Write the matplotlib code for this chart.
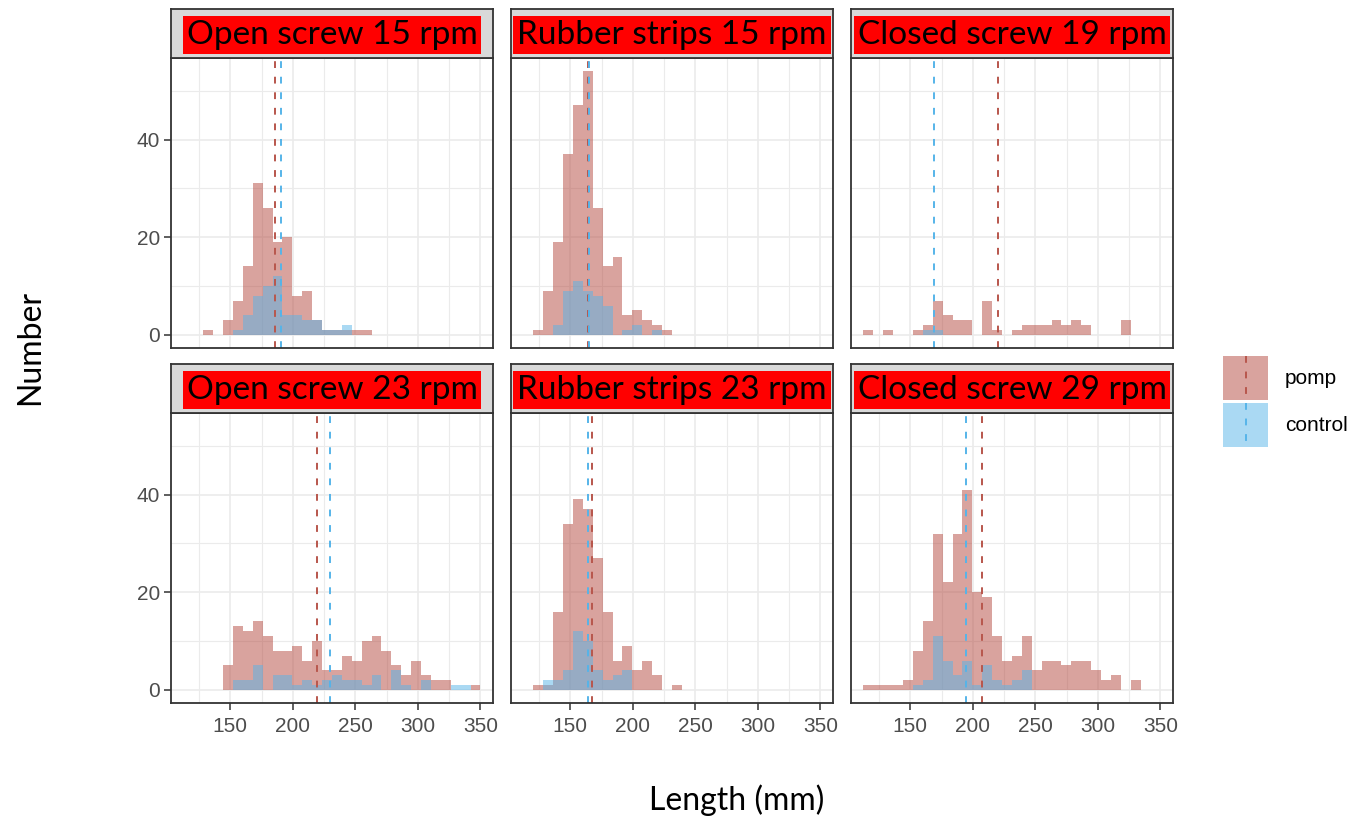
import numpy as np
import matplotlib.pyplot as plt
from matplotlib.patches import Rectangle
from matplotlib.lines import Line2D

plt.rcParams['font.family'] = ['Liberation Sans', 'DejaVu Sans']

W, H = 1366, 818

###### DATA ##########
panel_titles = ["Open screw 15 rpm", "Rubber strips 15 rpm", "Closed screw 19 rpm",
                "Open screw 23 rpm", "Rubber strips 23 rpm", "Closed screw 29 rpm"]

# 30 bins shared by all facets (ggplot default bins = 30)
bin_start = 112.5
bin_width = 7.9167
n_bins = 30

# counts per bin, pomp and control, one list per facet
open15_pomp = [0, 0, 1, 0, 3, 7, 14, 31, 26, 19, 20, 8, 9, 3, 1, 1, 1, 1, 1, 0, 0, 0, 0, 0, 0, 0, 0, 0, 0, 0]
open15_ctrl = [0, 0, 0, 0, 0, 1, 4, 8, 10, 12, 4, 4, 3, 3, 1, 1, 2, 0, 0, 0, 0, 0, 0, 0, 0, 0, 0, 0, 0, 0]
rubber15_pomp = [0, 1, 9, 19, 37, 47, 54, 26, 14, 16, 4, 5, 3, 2, 1, 0, 0, 0, 0, 0, 0, 0, 0, 0, 0, 0, 0, 0, 0, 0]
rubber15_ctrl = [0, 0, 0, 2, 9, 11, 9, 8, 6, 0, 1, 2, 0, 1, 0, 0, 0, 0, 0, 0, 0, 0, 0, 0, 0, 0, 0, 0, 0, 0]
closed19_pomp = [1, 0, 1, 0, 0, 1, 2, 7, 4, 3, 3, 0, 7, 1, 0, 1, 2, 2, 2, 3, 2, 3, 2, 0, 0, 0, 3, 0, 0, 0]
closed19_ctrl = [0, 0, 0, 0, 0, 0, 1, 1, 0, 0, 0, 0, 0, 0, 0, 0, 0, 0, 0, 0, 0, 0, 0, 0, 0, 0, 0, 0, 0, 0]
open23_pomp = [0, 0, 0, 0, 5, 13, 12, 14, 11, 8, 8, 9, 6, 10, 4, 4, 7, 6, 10, 11, 8, 5, 3, 6, 3, 2, 2, 0, 0, 1]
open23_ctrl = [0, 0, 0, 0, 0, 2, 2, 5, 0, 3, 3, 1, 2, 1, 2, 3, 2, 2, 1, 3, 0, 4, 1, 0, 2, 0, 0, 1, 1, 0]
rubber23_pomp = [0, 1, 1, 16, 34, 39, 37, 27, 16, 6, 9, 4, 6, 3, 0, 1, 0, 0, 0, 0, 0, 0, 0, 0, 0, 0, 0, 0, 0, 0]
rubber23_ctrl = [0, 0, 2, 2, 4, 12, 10, 4, 2, 3, 4, 0, 0, 0, 0, 0, 0, 0, 0, 0, 0, 0, 0, 0, 0, 0, 0, 0, 0, 0]
closed29_pomp = [1, 1, 1, 1, 2, 8, 14, 32, 22, 32, 41, 20, 19, 11, 6, 7, 11, 4, 6, 6, 5, 6, 6, 4, 2, 3, 0, 2, 0, 0]
closed29_ctrl = [0, 0, 0, 0, 0, 1, 2, 11, 6, 3, 6, 1, 5, 2, 1, 2, 4, 0, 0, 0, 0, 0, 0, 0, 0, 0, 0, 0, 0, 0]

pomp_counts = [open15_pomp, rubber15_pomp, closed19_pomp, open23_pomp, rubber23_pomp, closed29_pomp]
ctrl_counts = [open15_ctrl, rubber15_ctrl, closed19_ctrl, open23_ctrl, rubber23_ctrl, closed29_ctrl]

# mean lengths (dashed lines)
pomp_means = [185.7, 164.4, 220.3, 219.5, 167.1, 207.0]
ctrl_means = [190.5, 165.2, 169.2, 229.9, 164.4, 194.5]

x_ticks = [150, 200, 250, 300, 350]
y_ticks = [0, 20, 40]
#########################

POMP = '#B5493F'
POMP_LINE = '#B8564C'
CTRL = '#56B4E9'
BORDER = '#333333'
GRID = '#EBEBEB'

edges = bin_start + bin_width * np.arange(n_bins + 1)
centers = (edges[:-1] + edges[1:]) / 2


def px(x, y, w, h):
    # pixel box (top-left origin) -> figure fraction
    return [x / W, 1 - (y + h) / H, w / W, h / H]


fig = plt.figure(figsize=(W / 100, H / 100), dpi=100)

col_x = [171, 511, 851]
row_y = [58, 413]
pw, ph = 322, 290
strip_h = 49

dash = (0, (3.5, 4.5))

for i in range(6):
    r, c = divmod(i, 3)
    x0, y0 = col_x[c], row_y[r]
    ax = fig.add_axes(px(x0, y0, pw, ph))
    ax.set_xlim(102.6, 360.0)
    ax.set_ylim(-2.7, 56.7)

    # grid
    for v in [125, 175, 225, 275, 325]:
        ax.axvline(v, color=GRID, lw=0.8, zorder=0)
    for v in x_ticks:
        ax.axvline(v, color=GRID, lw=1.2, zorder=0)
    for v in [10, 30, 50]:
        ax.axhline(v, color=GRID, lw=0.8, zorder=0)
    for v in y_ticks:
        ax.axhline(v, color=GRID, lw=1.2, zorder=0)

    ax.bar(centers, pomp_counts[i], width=bin_width, color=POMP, alpha=0.5, lw=0, zorder=2)
    ax.bar(centers, ctrl_counts[i], width=bin_width, color=CTRL, alpha=0.5, lw=0, zorder=3)
    ax.axvline(pomp_means[i], color=POMP_LINE, lw=1.4, ls=dash, zorder=4)
    ax.axvline(ctrl_means[i], color=CTRL, lw=1.4, ls=dash, zorder=5)

    for s in ax.spines.values():
        s.set_color(BORDER)
        s.set_linewidth(1.3)
        s.set_zorder(6)

    ax.set_xticks(x_ticks)
    ax.set_yticks(y_ticks)
    ax.tick_params(colors=BORDER, labelcolor='#4D4D4D', labelsize=15, length=5, width=1.1)
    ax.tick_params(axis='x', pad=5)
    ax.tick_params(axis='y', pad=3)
    if c != 0:
        ax.tick_params(axis='y', left=False, labelleft=False)
    if r == 0:
        ax.tick_params(axis='x', bottom=False, labelbottom=False)

    # strip
    sax = fig.add_axes(px(x0, y0 - strip_h, pw, strip_h))
    sax.set_facecolor('#D9D9D9')
    sax.set_xticks([])
    sax.set_yticks([])
    for s in sax.spines.values():
        s.set_color(BORDER)
        s.set_linewidth(1.3)
    sax.text(0.5, 0.47, panel_titles[i], ha='center', va='center', family='Lato',
             fontsize=24, color='black',
             bbox=dict(boxstyle='square,pad=0.12', facecolor='#FF0000', edgecolor='none'),
             clip_on=True)

# axis titles
fig.text(30 / W, 1 - 347 / H, 'Number', rotation=90, ha='center', va='center',
         family='Lato', fontsize=23)
fig.text(737 / W, 1 - 800 / H, 'Length (mm)', ha='center', va='center',
         family='Lato', fontsize=23)

# legend
lax = fig.add_axes(px(1215, 350, 151, 104))
lax.set_xlim(1215, 1366)
lax.set_ylim(454, 350)
lax.axis('off')
for (name, colr, lcol, ytop) in [('pomp', POMP, POMP_LINE, 356), ('control', CTRL, CTRL, 403)]:
    lax.add_patch(Rectangle((1223, ytop), 45, 44, facecolor=colr, alpha=0.5, lw=0))
    lax.add_line(Line2D([1245.5, 1245.5], [ytop, ytop + 44], color=lcol, lw=1.4, ls=dash))
    lax.text(1285, ytop + 23, name, ha='left', va='center', fontsize=15)

fig.savefig('out.png', dpi=100)
